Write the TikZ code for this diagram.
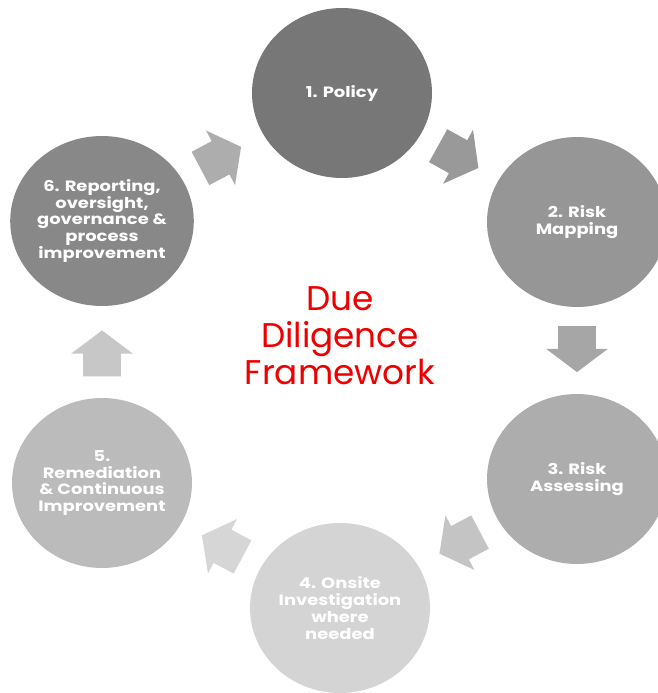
\documentclass[tikz,border=0pt]{standalone}
\usepackage{fontspec}
\setmainfont{Poppins}
\newfontfamily\stagefont{Poppins}[FakeStretch=1.2]
\usepackage{tikz}
\usetikzlibrary{shapes.geometric, shapes.arrows, positioning, calc}

\definecolor{policygray}{HTML}{777777}
\definecolor{mappinggray}{HTML}{969696}
\definecolor{assessgray}{HTML}{ADADAD}
\definecolor{onsitegray}{HTML}{D4D4D4}
\definecolor{remedygray}{HTML}{BBBBBB}
\definecolor{reportgray}{HTML}{888888}
\definecolor{duered}{HTML}{EE0000}

\begin{document}
\begin{tikzpicture}[x=0.02cm, y=-0.02cm,
  stage/.style={ellipse, minimum width=3.6cm, minimum height=3.4cm, inner sep=0pt,
    text=white, align=center, font=\stagefont\bfseries\fontsize{8.5}{9.6}\selectfont},
  flow/.style={single arrow, minimum height=0.92cm, inner xsep=0pt, inner ysep=0.37cm,
    single arrow head extend=0.24cm, single arrow tip angle=106, outer sep=0pt,
    rotate=#1, xshift=-0.17cm}]
\useasboundingbox (0,0) rectangle (658,693);
\clip (0,0) rectangle (658,693);

% the six stages
\node[stage, fill=policygray] (policy) at (342,93) {1. Policy};
\node[stage, fill=mappinggray] (mapping) at (577,222) {2. Risk\\Mapping};
\node[stage, fill=assessgray] (assessing) at (577,479) {3. Risk\\Assessing};
\node[stage, fill=onsitegray] (onsite) at (340,608) {4. Onsite\\Investigation\\where\\needed};
\node[stage, fill=remedygray] (remedy) at (102,483) {5.\\Remediation\\\& Continuous\\Improvement};
\node[stage, fill=reportgray] (report) at (102,221) {6. Reporting,\\oversight,\\governance \&\\process\\improvement};

\node[text=duered, align=center, font=\fontsize{19.5}{21}\selectfont] (title) at (340,336) {Due\\Diligence\\Framework};

% block arrows half way between stages
\node[flow=28, fill=black!32] (reptopol) at ($(report)!0.5!(policy)$) {};
\node[flow=-29, fill=black!40] (poltomap) at ($(policy)!0.5!(mapping)$) {};
\node[flow=-90, fill=black!35] (maptoass) at ($(mapping)!0.5!(assessing)$) {};
\node[flow=208, fill=black!23] (asstoons) at ($(assessing)!0.5!(onsite)$) {};
\node[flow=152, fill=black!16] (onstorem) at ($(onsite)!0.5!(remedy)$) {};
\node[flow=90, fill=black!22] (remtorep) at ($(remedy)!0.5!(report)$) {};
\end{tikzpicture}
\end{document}
